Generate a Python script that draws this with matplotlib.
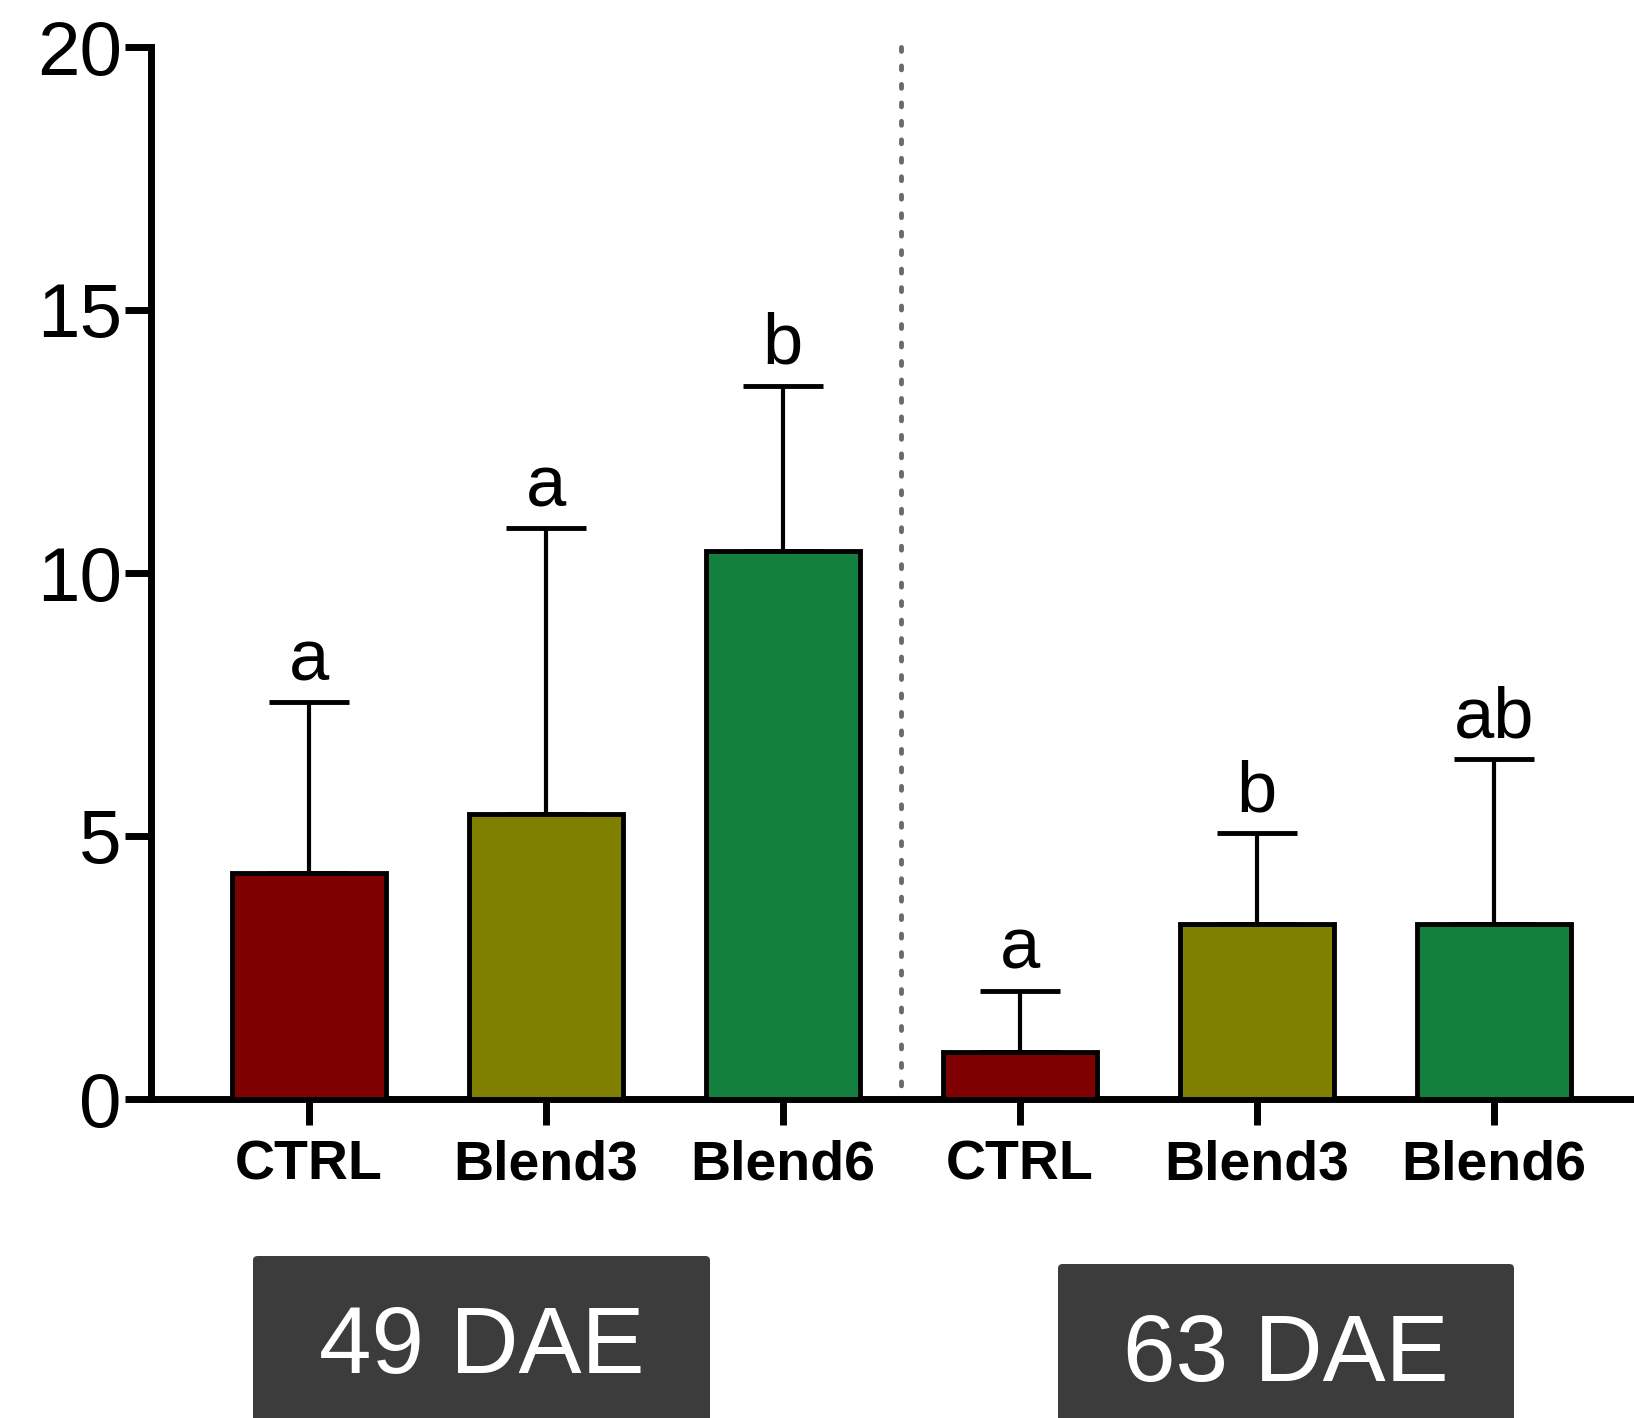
import matplotlib
matplotlib.use("Agg")
import matplotlib.pyplot as plt
from matplotlib.patches import FancyBboxPatch
import numpy as np

# Data: means, standard errors and significance letters per treatment
treatments = ["CTRL", "Blend3", "Blend6", "CTRL", "Blend3", "Blend6"]
means = [4.30, 5.41, 10.42, 0.89, 3.33, 3.33]
errors = [3.24, 5.44, 3.14, 1.17, 1.72, 3.13]
letters = ["a", "a", "b", "a", "b", "ab"]
colors = ["#7f0000", "#7f7f00", "#138040", "#7f0000", "#7f7f00", "#138040"]
periods = ["49 DAE", "63 DAE"]
yticks = [0, 5, 10, 15, 20]

W, H, DPI = 1634, 1418, 100
fig = plt.figure(figsize=(W / DPI, H / DPI), dpi=DPI)
plt.rcParams["font.family"] = ["Liberation Sans", "DejaVu Sans"]

ax = fig.add_axes([151 / W, 319 / H, 1.0 - 151 / W + 0.01, 1052 / H])
x = np.arange(len(means))

ax.bar(x, means, width=0.65, color=colors, edgecolor="black", linewidth=3.5, zorder=3)
ax.errorbar(x, means, yerr=[np.zeros(len(errors)), errors], fmt="none",
            ecolor="black", elinewidth=3, capsize=29, capthick=3.5, zorder=2)

for xi, m, e, lab in zip(x, means, errors, letters):
    ax.text(xi, m + e + 0.42, lab, ha="center", va="baseline", fontsize=52)

# separator between sampling dates, drawn top-down so the dots start at the top
ax.plot([2.5, 2.5], [20, 0], color="#6a6a6a", linestyle=(0, (0.8, 3)),
        linewidth=3.5, dash_capstyle="round", zorder=1, clip_on=False)

ax.set_ylim(0, 20)
ax.set_xlim(-0.665, 5.66)
ax.set_yticks(yticks)
ax.set_yticklabels([str(t) for t in yticks], fontsize=55)
ax.set_xticks(x)
ax.set_xticklabels(treatments, fontsize=40, fontweight="bold",
                   family=["Liberation Sans Narrow", "Liberation Sans", "DejaVu Sans"])

for side in ["top", "right"]:
    ax.spines[side].set_visible(False)
ax.spines["left"].set_linewidth(5)
ax.spines["bottom"].set_linewidth(5)
ax.tick_params(axis="y", length=19, width=5, pad=2)
ax.tick_params(axis="x", length=19, width=5, pad=10)

# period labels in dark boxes below the axis
boxes = [(253, 1256, 457, 170), (1058, 1264, 456, 170)]
for (bx, by, bw, bh), label in zip(boxes, periods):
    patch = FancyBboxPatch((bx / W, 1 - (by + bh) / H), bw / W, bh / H,
                           boxstyle="round,pad=0,rounding_size=0.003",
                           transform=fig.transFigure, facecolor="#3c3c3c",
                           edgecolor="none")
    fig.add_artist(patch)
    fig.text((bx + bw / 2) / W, 1 - (by + 92) / H, label, color="white",
             fontsize=68, ha="center", va="center")

fig.savefig("out.png", dpi=DPI)
